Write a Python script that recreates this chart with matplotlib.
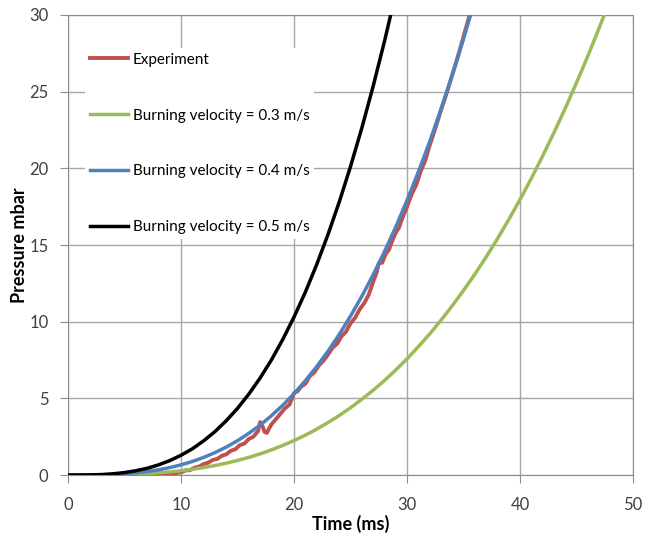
import matplotlib
matplotlib.use("Agg")
import matplotlib.pyplot as plt

# ---- datos ----
t_black = [0, 1, 2, 3, 4, 5, 6, 7, 8, 9, 10, 11, 12, 13, 14, 15, 16, 17, 18, 19,
           20, 21, 22, 23, 24, 25, 26, 27, 28, 29]
p_black = [0, 0.0, 0.01, 0.03, 0.08, 0.16, 0.28, 0.44, 0.66, 0.94, 1.29, 1.71, 2.23,
           2.83, 3.54, 4.35, 5.28, 6.33, 7.51, 8.84, 10.31, 11.93, 13.72, 15.68,
           17.81, 20.13, 22.64, 25.36, 28.28, 31.42]

t_blue = [0, 1, 2, 3, 4, 5, 6, 7, 8, 9, 10, 11, 12, 13, 14, 15, 16, 17, 18, 19,
          20, 21, 22, 23, 24, 25, 26, 27, 28, 29, 30, 31, 32, 33, 34, 35, 36]
p_blue = [0, 0.0, 0.005, 0.018, 0.042, 0.083, 0.143, 0.228, 0.34, 0.484, 0.664,
          0.883, 1.15, 1.46, 1.82, 2.24, 2.72, 3.26, 3.87, 4.55, 5.31, 6.15, 7.07,
          8.07, 9.17, 10.37, 11.66, 13.06, 14.57, 16.18, 17.92, 19.77, 21.74,
          23.85, 26.08, 28.45, 30.96]

t_green = [0, 1, 2, 3, 4, 5, 6, 7, 8, 9, 10, 11, 12, 13, 14, 15, 16, 17, 18, 19,
           20, 21, 22, 23, 24, 25, 26, 27, 28, 29, 30, 31, 32, 33, 34, 35, 36, 37,
           38, 39, 40, 41, 42, 43, 44, 45, 46, 47, 48]
p_green = [0, 0.0, 0.002, 0.008, 0.018, 0.035, 0.061, 0.10, 0.144, 0.20, 0.28, 0.37,
           0.49, 0.62, 0.77, 0.95, 1.15, 1.38, 1.64, 1.93, 2.25, 2.60, 2.99, 3.42,
           3.88, 4.39, 4.94, 5.53, 6.16, 6.85, 7.58, 8.37, 9.20, 10.09, 11.04,
           12.04, 13.10, 14.22, 15.41, 16.66, 17.97, 19.35, 20.81, 22.33, 23.92,
           25.59, 27.33, 29.16, 31.06]

# experimento (con ruido de medida)
t_exp = [0, 4, 8, 8.5, 9, 9.5, 10, 10.4, 10.8, 11.2, 11.6, 12, 12.4, 12.8, 13.2,
         13.6, 14, 14.4, 14.8, 15.2, 15.6, 16, 16.4, 16.8, 17, 17.2, 17.4, 17.6,
         17.8, 18, 18.4, 18.8, 19.2, 19.6, 20, 20.3, 20.6, 21, 21.4, 21.8, 22.2,
         22.6, 23, 23.4, 23.8, 24.2, 24.6, 25, 25.4, 25.8, 26.2, 26.6, 27, 27.3,
         27.5, 27.8, 28.1, 28.4, 28.7, 29, 29.3, 29.6, 30, 30.4, 30.8, 31.2, 31.6,
         32, 32.5, 33, 33.5, 34, 34.5, 35, 35.5, 36]
p_exp = [0, 0, 0, 0.03, 0.05, 0.12, 0.18, 0.3, 0.32, 0.48, 0.55, 0.72, 0.8, 0.98,
         1.05, 1.25, 1.35, 1.58, 1.68, 1.95, 2.05, 2.35, 2.5, 2.85, 3.45, 3.2, 2.8,
         2.75, 3.05, 3.3, 3.65, 4.0, 4.35, 4.6, 5.35, 5.45, 5.75, 5.95, 6.45, 6.7,
         7.15, 7.45, 7.85, 8.3, 8.55, 9.05, 9.35, 9.9, 10.25, 10.8, 11.2, 11.75,
         12.6, 13.2, 13.8, 13.85, 14.4, 14.7, 15.3, 15.8, 16.15, 16.8, 17.5, 18.3,
         18.9, 19.8, 20.5, 21.5, 22.6, 23.8, 24.9, 26.1, 27.3, 28.6, 29.9, 31.2]

FONT = "Lato"
plt.rcParams["font.family"] = [FONT, "DejaVu Sans"]

fig = plt.figure(figsize=(6.48, 5.39), dpi=100)
ax = fig.add_axes([0.105, 0.1187, 0.872, 0.8535])

lw = 2.5
ax.plot(t_exp, p_exp, color="#C0504D", lw=lw + 0.3, label="Experiment", zorder=3)
ax.plot(t_green, p_green, color="#9BBB59", lw=lw, label="Burning velocity = 0.3 m/s", zorder=3)
ax.plot(t_blue, p_blue, color="#4F81BD", lw=lw, label="Burning velocity = 0.4 m/s", zorder=4)
ax.plot(t_black, p_black, color="black", lw=lw, label="Burning velocity = 0.5 m/s", zorder=4)

ax.set_xlim(0, 50)
ax.set_ylim(0, 30)
ax.set_xticks(range(0, 51, 10))
ax.set_yticks(range(0, 31, 5))
ax.grid(True, color="#A6A6A6", lw=1.0)
ax.set_axisbelow(True)
for s in ax.spines.values():
    s.set_color("#8C8C8C")
ax.tick_params(colors="#8C8C8C", labelcolor="#404040", labelsize=12, length=6,
               direction="out")
ax.tick_params(axis="x", pad=10)
ax.tick_params(axis="y", pad=8)

ax.set_xlabel("Time (ms)", fontsize=13, fontweight="bold", labelpad=1.5)
ax.set_ylabel("Pressure mbar", fontsize=13, fontweight="bold", labelpad=1)

leg = ax.legend(loc="upper left", bbox_to_anchor=(0.03, 0.928), borderaxespad=0,
                fontsize=11, frameon=True, fancybox=False, edgecolor="none",
                framealpha=1, labelspacing=2.74, handlelength=2.5,
                handletextpad=0.35, borderpad=0.3)
leg.set_zorder(5)

fig.savefig("out.png", dpi=100)
